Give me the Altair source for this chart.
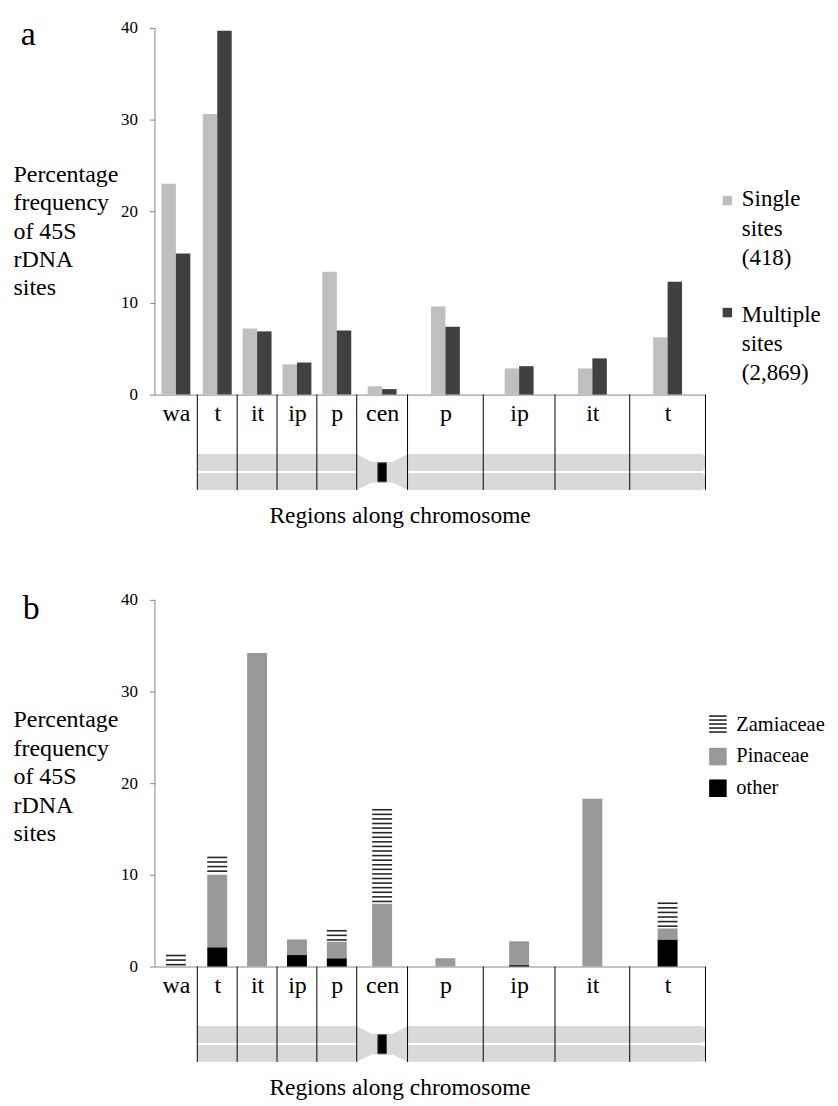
import altair as alt
import pandas as pd

# ---------------- data ----------------
regions = ["wa", "t", "it", "ip", "p", "cen", "p", "ip", "it", "t"]
# relative widths of the regions along the chromosome drawing (left edge of each + end)
region_edges = [0, 43, 83, 123, 163, 203, 254, 330, 402, 477, 553]

single_sites = [23.0, 30.6, 7.2, 3.3, 13.4, 0.9, 9.6, 2.85, 2.85, 6.25]
multiple_sites = [15.4, 39.7, 6.9, 3.5, 7.0, 0.6, 7.4, 3.1, 3.95, 12.3]

other = [0.0, 2.1, 0.0, 1.25, 0.9, 0.0, 0.0, 0.15, 0.0, 2.95]
pinaceae = [0.0, 7.9, 34.2, 1.7, 1.8, 6.85, 0.9, 2.6, 18.3, 1.2]
zamiaceae = [1.2, 1.9, 0.0, 0.0, 1.2, 10.25, 0.0, 0.0, 0.0, 2.75]

y_ticks = [0, 10, 20, 30, 40]
top_series = ["Single", "Multiple"]
top_legend = ["Single\nsites\n(418)", "Multiple\nsites\n(2,869)"]
bottom_series = ["Zamiaceae", "Pinaceae", "other"]
y_title = ["Percentage", "frequency", "of 45S", "rDNA", "sites"]
x_title = "Regions along chromosome"

# ---------------- style ----------------
FONT = "Liberation Serif"
AXIS_GREY = "#868686"
CHROM_GREY = "#D9D9D9"
W = region_edges[-1]
H = 368
UNIT = H / 40.0


def px(p):
    return p / UNIT


centers = [(a + b) / 2 for a, b in zip(region_edges[:-1], region_edges[1:])]
xs = alt.Scale(domain=[0, W], nice=False, zero=False)
ys = alt.Scale(domain=[0, 40], nice=False, zero=False)

label_expr = "[{}][indexof([{}], datum.value)]".format(
    ",".join("'%s'" % r for r in regions), ",".join(repr(c) for c in centers)
)

X_AXIS = alt.Axis(
    values=centers, labelExpr=label_expr, ticks=False, tickSize=0,
    labelPadding=26, labelBaseline="alphabetic", labelAngle=0,
    labelFont=FONT, labelFontSize=24, labelColor="black",
    labelOverlap=False, labelFlush=False, labelBound=False,
    domainColor=AXIS_GREY, grid=False,
    title=x_title, titleX=246, titleY=128.5, titleAlign="center",
    titleBaseline="alphabetic", titleFont=FONT, titleFontSize=23.5,
    titleFontWeight="normal", titleColor="black",
)


def y_axis(title_y):
    return alt.Axis(
        values=y_ticks, grid=False, tickSize=5, tickColor=AXIS_GREY,
        domainColor=AXIS_GREY, labelFont=FONT, labelFontSize=17,
        labelColor="black", labelPadding=12,
        title=y_title, titleAngle=0, titleAlign="left",
        titleBaseline="alphabetic", titleX=-142, titleY=title_y,
        titleLineHeight=28.5, titleFont=FONT, titleFontSize=24,
        titleFontWeight="normal", titleColor="black",
    )


# ---------------- chromosome drawing under the axis ----------------
ct0, ct1, cb0, cb1 = -px(59.7), -px(76.7), -px(78.7), -px(95.7)
arm_rows = []
for arm, (a, b) in enumerate([(region_edges[1], region_edges[5]), (region_edges[6], region_edges[10])]):
    for (y0, y1) in [(ct0, ct1), (cb0, cb1)]:
        arm_rows.append(dict(arm=arm, x0=a, x1=b, y0=y0, y1=y1))
arms = pd.DataFrame(arm_rows)

c0, c1 = region_edges[5], region_edges[6]
cmid = (c0 + c1) / 2
centro = pd.DataFrame({
    "x": [c0, cmid - 11, cmid + 11, c1],
    "top": [ct0, -px(67.5), -px(67.5), ct0],
    "bot": [cb1, -px(88.5), -px(88.5), cb1],
})
centro_core = pd.DataFrame({"x0": [cmid - 4.3], "x1": [cmid + 4.3],
                            "y0": [-px(68.5)], "y1": [-px(87.5)]})
bounds = pd.DataFrame({"x": region_edges[1:], "y0": [0.0] * 10, "y1": [cb1] * 10})


def make_panel(y_ax, data_layers, extra):
    def X(field):
        return alt.X(field, scale=xs, axis=X_AXIS)

    def Y(field):
        return alt.Y(field, scale=ys, axis=y_ax)

    left = alt.Chart(arms[arms.arm == 0]).mark_rect(color=CHROM_GREY).encode(
        x=X("x0:Q"), x2="x1:Q", y=Y("y0:Q"), y2="y1:Q")
    right = alt.Chart(arms[arms.arm == 1]).mark_rect(
        color=CHROM_GREY, cornerRadiusTopRight=5, cornerRadiusBottomRight=5).encode(
        x=X("x0:Q"), x2="x1:Q", y=Y("y0:Q"), y2="y1:Q")
    cen = alt.Chart(centro).mark_area(color=CHROM_GREY, orient="vertical").encode(
        x=X("x:Q"), y=Y("top:Q"), y2="bot:Q")
    core = alt.Chart(centro_core).mark_rect(color="black", stroke="#444", strokeWidth=1).encode(
        x=X("x0:Q"), x2="x1:Q", y=Y("y0:Q"), y2="y1:Q")
    rules = alt.Chart(bounds).mark_rule(color="black", strokeWidth=1).encode(
        x=X("x:Q"), y=Y("y0:Q"), y2="y1:Q")
    layers = [left, right, cen, core, rules]
    layers += [f(X, Y) for f in data_layers]
    layers += [f(X, Y) for f in extra]
    return alt.layer(*layers).properties(width=W, height=H)


def letter(txt, xu, yu):
    def f(X, Y):
        return alt.Chart(pd.DataFrame({"t": [txt], "x": [xu], "y": [yu]})).mark_text(
            font=FONT, fontSize=34, align="left", baseline="alphabetic", color="black"
        ).encode(x=X("x:Q"), y=Y("y:Q"), text="t:N")
    return f


# ---------------- panel a ----------------
BW = 14.5
rows = []
for i, c in enumerate(centers):
    rows.append(dict(series=top_series[0], x0=c - BW, x1=c, base=0.0, v=single_sites[i]))
    rows.append(dict(series=top_series[1], x0=c, x1=c + BW, base=0.0, v=multiple_sites[i]))
top_df = pd.DataFrame(rows)
top_color = alt.Scale(domain=top_series, range=["#BFBFBF", "#404040"])

leg_a = pd.DataFrame({"series": top_series, "label": top_legend,
                      "sx": [575, 575], "sy": [21.17, 8.95],
                      "tx": [589.5, 589.5], "ty": [21.3, 8.7]})


def bars_a(X, Y):
    return alt.Chart(top_df).mark_bar().encode(
        x=X("x0:Q"), x2="x1:Q", y=Y("base:Q"), y2="v:Q",
        color=alt.Color("series:N", scale=top_color, legend=None))


def leg_a_sw(X, Y):
    return alt.Chart(leg_a).mark_square(size=90, opacity=1).encode(
        x=X("sx:Q"), y=Y("sy:Q"),
        color=alt.Color("series:N", scale=top_color, legend=None))


def leg_a_tx(X, Y):
    return alt.Chart(leg_a).mark_text(
        font=FONT, fontSize=23, align="left", baseline="middle", lineBreak="\n",
        lineHeight=29.3, color="black").encode(x=X("tx:Q"), y=Y("ty:Q"), text="label:N")


panel_a = make_panel(y_axis(154.0), [bars_a], [leg_a_sw, leg_a_tx, letter("a", -134.3, 38.15)])

# ---------------- panel b ----------------
BW2 = 10
seg_rows, stripe_rows = [], []
for i, c in enumerate(centers):
    base = 0.0
    for name, val in [("other", other[i]), ("Pinaceae", pinaceae[i])]:
        if val > 0:
            seg_rows.append(dict(series=name, x0=c - BW2, x1=c + BW2, y0=base, y1=base + val))
        base += val
    if zamiaceae[i] > 0:
        top = base + zamiaceae[i]
        yv = top
        while yv > base + 0.15:
            stripe_rows.append(dict(series="Zamiaceae", x0=c - BW2, x1=c + BW2, y=yv))
            yv -= 0.5
seg_df = pd.DataFrame(seg_rows)
stripe_df = pd.DataFrame(stripe_rows)
bot_color = alt.Scale(domain=bottom_series, range=["#262626", "#999999", "#000000"])

leg_b = pd.DataFrame({"series": bottom_series, "sx": [565.5] * 3,
                      "sy": [26.45, 22.9, 19.45], "tx": [584] * 3,
                      "ty": [26.3, 22.93, 19.45]})
zs = leg_b[leg_b.series == "Zamiaceae"].iloc[0]
leg_stripes = pd.DataFrame({
    "series": ["Zamiaceae"] * 5,
    "x0": [zs.sx - 8.8] * 5, "x1": [zs.sx + 8.8] * 5,
    "y": [zs.sy + k * px(4.0) for k in (-2, -1, 0, 1, 2)],
})


def bars_b(X, Y):
    return alt.Chart(seg_df).mark_bar().encode(
        x=X("x0:Q"), x2="x1:Q", y=Y("y0:Q"), y2="y1:Q",
        color=alt.Color("series:N", scale=bot_color, legend=None))


def stripes_b(X, Y):
    return alt.Chart(stripe_df).mark_rule(strokeWidth=1.6).encode(
        x=X("x0:Q"), x2="x1:Q", y=Y("y:Q"),
        color=alt.Color("series:N", scale=bot_color, legend=None))


def leg_b_sw(X, Y):
    return alt.Chart(leg_b[leg_b.series != "Zamiaceae"]).mark_square(size=310, opacity=1).encode(
        x=X("sx:Q"), y=Y("sy:Q"),
        color=alt.Color("series:N", scale=bot_color, legend=None))


def leg_b_st(X, Y):
    return alt.Chart(leg_stripes).mark_rule(strokeWidth=1.6).encode(
        x=X("x0:Q"), x2="x1:Q", y=Y("y:Q"),
        color=alt.Color("series:N", scale=bot_color, legend=None))


def leg_b_tx(X, Y):
    return alt.Chart(leg_b).mark_text(
        font=FONT, fontSize=20.5, align="left", baseline="middle", color="black").encode(
        x=X("tx:Q"), y=Y("ty:Q"), text="series:N")


panel_b = make_panel(y_axis(127.5), [bars_b, stripes_b],
                     [leg_b_sw, leg_b_st, leg_b_tx, letter("b", -132.3, 37.86)])

chart = alt.vconcat(panel_a, panel_b, spacing=206, bounds="flush").resolve_scale(
    color="independent"
).properties(
    padding={"left": 5, "top": 8, "right": 5, "bottom": 5}
).configure_view(stroke=None)

chart.save("out.html", embed_options={"renderer": "svg", "actions": False})
